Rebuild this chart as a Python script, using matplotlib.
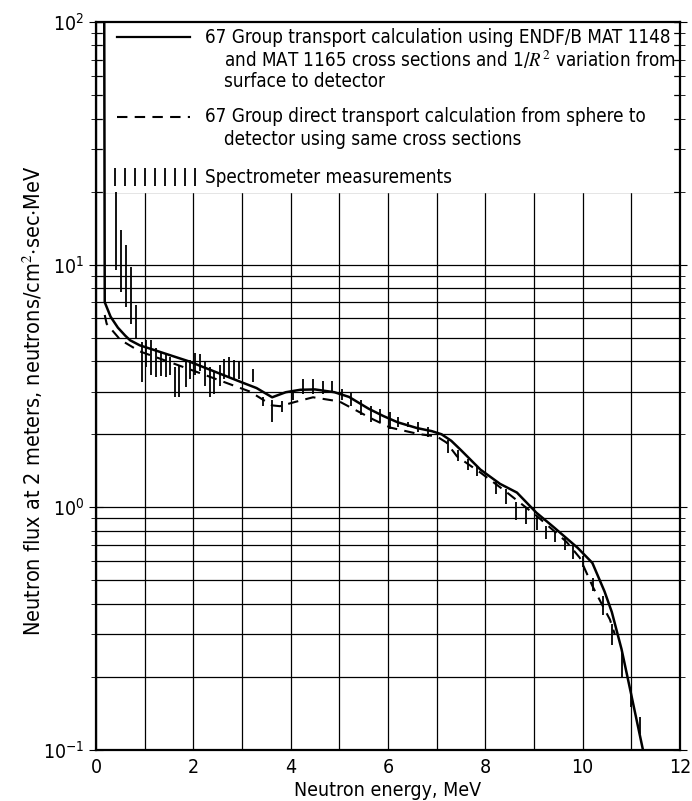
import os
import matplotlib
matplotlib.use('Agg')
import matplotlib.pyplot as plt
import numpy as np
from matplotlib import font_manager as fm
from matplotlib.ticker import LogLocator, NullFormatter

# look for a narrow sans face, the scan uses a condensed type
narrow = None
for f in fm.fontManager.ttflist:
    base = os.path.basename(f.fname)
    if base in ('LiberationSansNarrow-Regular.ttf', 'DejaVuSansCondensed.ttf'):
        if narrow is None or base.startswith('Liberation'):
            narrow = f
if narrow is not None:
    plt.rcParams['font.family'] = [narrow.name, 'DejaVu Sans']
    plt.rcParams['font.stretch'] = narrow.stretch
    fs = 13.5
else:
    plt.rcParams['font.family'] = ['DejaVu Sans']
    fs = 11.8
plt.rcParams['mathtext.fontset'] = 'stix'

# 67 group transport calculation with 1/R^2 variation
energy_calc = [0.17, 0.18, 0.3, 0.45, 0.6, 0.7, 0.9, 1.9, 3.0, 3.3, 3.62, 3.9, 4.2,
               4.5, 4.9, 5.2, 5.6, 5.9, 6.2, 6.6, 6.9, 7.1, 7.3, 7.5, 7.9, 8.3,
               8.65, 9.05, 9.4, 9.9, 10.2, 10.45, 10.6, 10.8, 10.97, 11.24]
flux_calc = [100, 7.0, 6.1, 5.5, 5.1, 4.88, 4.65, 4.0, 3.27, 3.1, 2.84, 2.98, 3.05,
             3.06, 2.98, 2.85, 2.55, 2.38, 2.24, 2.12, 2.06, 2.0, 1.88, 1.72, 1.43, 1.25,
             1.15, 0.95, 0.83, 0.68, 0.59, 0.45, 0.37, 0.26, 0.18, 0.1]

# 67 group direct transport calculation, sphere to detector
energy_direct = [0.18, 0.22, 0.5, 0.9, 1.93, 3.16, 3.62, 3.78, 4.1, 4.46, 5.0, 5.7,
                 6.05, 6.65, 7.0, 7.2, 7.42, 7.9, 8.4, 9.06, 9.67, 9.94, 10.21, 10.42,
                 10.56, 10.66]
flux_direct = [6.2, 5.7, 4.9, 4.39, 3.7, 3.0, 2.63, 2.61, 2.72, 2.84, 2.73, 2.3,
               2.13, 2.0, 1.96, 1.85, 1.62, 1.39, 1.17, 0.92, 0.72, 0.62, 0.47, 0.39,
               0.345, 0.3]

# spectrometer measurements (vertical bars)
meas_energy = [0.41, 0.51, 0.62, 0.72, 0.83, 0.94, 1.03, 1.13, 1.23, 1.34, 1.44, 1.52,
               1.62, 1.71, 1.85, 1.93, 2.03, 2.14, 2.24, 2.34, 2.42, 2.55, 2.64, 2.73,
               2.83, 2.93, 3.23, 3.43, 3.61, 3.82, 4.05, 4.25, 4.46, 4.66, 4.85, 5.05,
               5.24, 5.45, 5.65, 5.84, 6.04, 6.21, 6.41, 6.62, 6.82, 7.23, 7.44, 7.64,
               7.83, 8.22, 8.42, 8.63, 8.83, 9.06, 9.25, 9.43, 9.64, 9.81, 10.01, 10.21,
               10.42, 10.6, 10.8, 11.0, 11.18]
meas_low = [9.5, 7.7, 6.7, 5.7, 5.0, 3.27, 3.77, 3.52, 3.43, 3.46, 3.43, 3.52,
            2.86, 2.84, 3.12, 3.37, 3.52, 3.63, 3.15, 2.86, 2.92, 3.15, 3.37, 3.43,
            3.37, 3.37, 3.27, 2.61, 2.24, 2.46, 2.78, 2.92, 2.92, 2.92, 2.97, 2.78,
            2.61, 2.41, 2.24, 2.24, 2.1, 2.14, 2.14, 2.05, 1.94, 1.67, 1.55, 1.43,
            1.35, 1.13, 1.03, 0.89, 0.85, 0.81, 0.74, 0.72, 0.67, 0.61, 0.57, 0.45,
            0.36, 0.27, 0.2, 0.15, 0.116]
meas_high = [20, 13.9, 12.1, 9.8, 6.8, 4.78, 4.9, 4.9, 4.55, 4.38, 4.33, 4.18,
             3.77, 3.87, 3.99, 4.06, 4.33, 4.27, 3.99, 3.77, 3.6, 3.87, 4.1, 4.18,
             4.06, 4.02, 3.7, 2.86, 2.78, 2.73, 3.0, 3.37, 3.37, 3.33, 3.33, 3.06,
             3.0, 2.78, 2.61, 2.53, 2.46, 2.35, 2.24, 2.24, 2.14, 1.9, 1.72, 1.58,
             1.46, 1.28, 1.19, 1.05, 0.99, 0.92, 0.84, 0.79, 0.76, 0.69, 0.63, 0.51,
             0.43, 0.33, 0.25, 0.18, 0.137]

fig = plt.figure(figsize=(6.92, 8.01), dpi=100)
ax = fig.add_axes([0.1387, 0.0637, 0.8439, 0.9089])
ax.set_yscale('log')
ax.set_xlim(0, 12)
ax.set_ylim(0.1, 100)
ax.set_xticks(range(0, 13, 2))
ax.set_xticks(range(1, 12, 2), minor=True)
ax.yaxis.set_minor_locator(LogLocator(base=10, subs=np.arange(2, 10)))
ax.yaxis.set_minor_formatter(NullFormatter())

ax.set_axisbelow(True)
ax.grid(True, which='both', color='black', linewidth=0.9)
# blank area behind the key
ax.axhspan(20, 100, xmin=0.012, xmax=0.988, color='white', zorder=1)

ax.tick_params(axis='x', which='both', length=0, labelsize=14, pad=6)
ax.tick_params(axis='y', which='both', direction='inout', left=True, right=True,
               labelsize=14)
ax.tick_params(axis='y', which='major', length=10)
ax.tick_params(axis='y', which='minor', length=7)
for s in ax.spines.values():
    s.set_linewidth(1.6)

ax.plot(energy_calc, flux_calc, color='black', lw=1.8, zorder=3)
ax.plot(energy_direct, flux_direct, color='black', lw=1.5, dashes=(5, 3.5), zorder=3)
ax.vlines(meas_energy, meas_low, meas_high, colors='black', lw=1.3, zorder=3)

ax.set_xlabel('Neutron energy, MeV', fontsize=14)
ax.xaxis.set_label_coords(0.5, -0.043)
ax.set_ylabel('Neutron flux at 2 meters, neutrons/cm$^2$$\\cdot$sec$\\cdot$MeV',
              fontsize=15.5)
ax.yaxis.set_label_coords(-0.088, 0.48)

# key
tr = ax.transAxes
ax.plot([0.036, 0.161], [0.979, 0.979], color='black', lw=1.6, transform=tr, zorder=4)
ax.plot([0.036, 0.161], [0.870, 0.870], color='black', lw=1.5, dashes=(5, 3.5),
        transform=tr, zorder=4)
ax.vlines(np.linspace(0.033, 0.170, 9), 0.775, 0.800, colors='black', lw=1.3,
          transform=tr, zorder=4)
ax.text(0.187, 0.979, '67 Group transport calculation using ENDF/B MAT 1148',
        transform=tr, va='center', fontsize=fs, zorder=4)
ax.text(0.219, 0.948, 'and MAT 1165 cross sections and 1/$R^2$ variation from',
        transform=tr, va='center', fontsize=fs, zorder=4)
ax.text(0.219, 0.918, 'surface to detector', transform=tr, va='center', fontsize=fs,
        zorder=4)
ax.text(0.187, 0.870, '67 Group direct transport calculation from sphere to',
        transform=tr, va='center', fontsize=fs, zorder=4)
ax.text(0.219, 0.838, 'detector using same cross sections', transform=tr, va='center',
        fontsize=fs, zorder=4)
ax.text(0.187, 0.787, 'Spectrometer measurements', transform=tr, va='center',
        fontsize=fs, zorder=4)

fig.savefig('out.png', dpi=100)
